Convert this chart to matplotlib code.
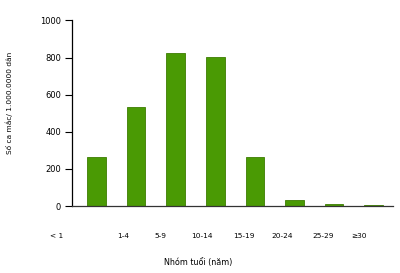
import matplotlib
matplotlib.use('Agg')
import matplotlib.pyplot as plt

# du lieu
nhom_tuoi = ['< 1', '1-4', '5-9', '10-14', '15-19', '20-24', '25-29', '≥30']
so_ca = [265, 533, 824, 803, 263, 32, 14, 5]
# vi tri nhan truc x (lech so voi cot nhu ban goc)
vi_tri_nhan = [-1.0, 0.67, 1.62, 2.66, 3.73, 4.68, 5.72, 6.62]

plt.rcParams['font.family'] = ['DejaVu Sans']

fig = plt.figure(figsize=(4, 2.73), dpi=100)
ax = fig.add_axes([0.18, 0.245, 0.8025, 0.68])

x = list(range(len(so_ca)))
ax.bar(x, so_ca, width=0.47, color='#4a9a04', edgecolor='#3d7d00', linewidth=0.6)

ax.set_xlim(-0.62, 7.49)
ax.set_ylim(0, 1000)
ax.set_yticks([0, 200, 400, 600, 800, 1000])
ax.tick_params(axis='y', labelsize=6, length=5, width=0.8, pad=3)
ax.set_xticks([])

ax.spines['top'].set_visible(False)
ax.spines['right'].set_visible(False)
ax.spines['left'].set_linewidth(0.9)
ax.spines['bottom'].set_linewidth(0.9)
ax.spines['bottom'].set_color('#333333')

# nhan nhom tuoi
for i in range(len(nhom_tuoi)):
    ax.text(vi_tri_nhan[i], -0.16, nhom_tuoi[i], transform=ax.get_xaxis_transform(),
            ha='center', va='center', fontsize=5.3, clip_on=False)

fig.text(0.495, 0.04, 'Nhóm tuổi (năm)', ha='center', va='center', fontsize=5.8)
fig.text(0.024, 0.625, 'Số ca mắc/ 1.000.0000 dân', ha='center', va='center',
         rotation=90, fontsize=5.3)

fig.savefig('out.png', dpi=100)
